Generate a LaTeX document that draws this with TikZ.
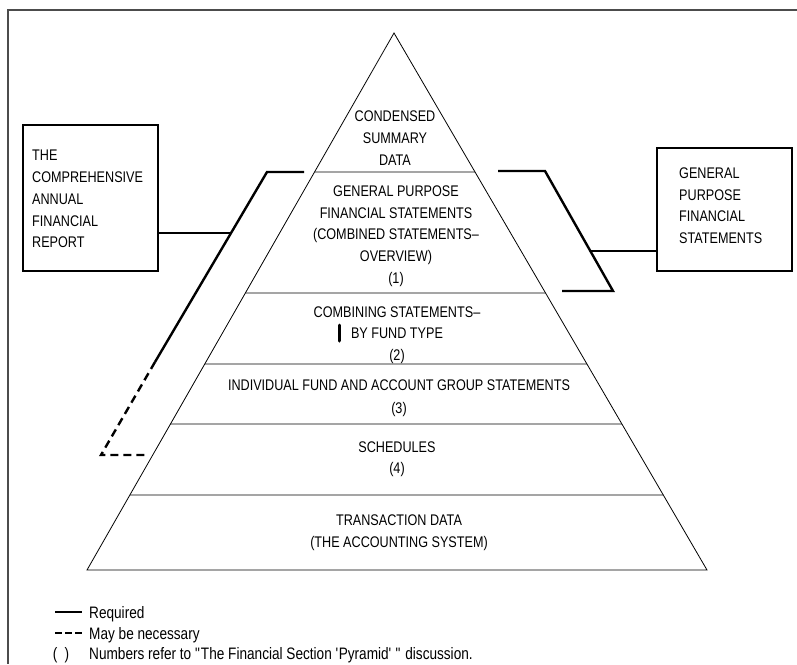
\documentclass[tikz,border=0pt]{standalone}
\usepackage{fontspec}
\newfontfamily\arialfont[FakeStretch=0.82]{Liberation Sans}
\begin{document}
\begin{tikzpicture}[x=1pt,y=-1pt,
  lbl/.style={font=\arialfont\fontsize{15.4}{21.7}\selectfont,inner sep=0pt,align=center,text depth=0pt},
  key/.style={lbl,anchor=west,font=\arialfont\fontsize{16.6}{21}\selectfont},
  sidebox/.style={draw,line width=1.2pt,minimum width=135pt,inner sep=0pt},
  req/.style={line width=2.4pt},
  maybe/.style={line width=2.4pt,dash pattern=on 8pt off 5pt},
  layer/.style={line width=0.8pt}]
\useasboundingbox (0,0) rectangle (797,664);
% frame
\draw[gray!60!black,line width=1.6pt] (797,10) -- (8,10) -- (8,664);
% pyramid and its layers
\coordinate (apex) at (394,33);
\coordinate (bl) at (87,570);
\coordinate (br) at (707,570);
\draw[layer] (apex) -- (bl) -- (br) -- cycle;
\foreach \yy in {172,293,364,424,495}
  \draw[layer] (intersection of apex--bl and 0,\yy--1,\yy) -- (intersection of apex--br and 0,\yy--1,\yy);
\node[lbl] (csd) at (395,138) {CONDENSED\\SUMMARY\\DATA};
\node[lbl] (gpf) at (396,234.5) {GENERAL PURPOSE\\FINANCIAL STATEMENTS\\(COMBINED STATEMENTS\textendash\\OVERVIEW)\\(1)};
\node[lbl] (cmb) at (397,333.5) {COMBINING STATEMENTS\textendash\\BY FUND TYPE\\(2)};
\draw[line width=3pt,line cap=round] (339,325) -- (339,341);
\node[lbl,font=\arialfont\fontsize{15.4}{23}\selectfont] (ind) at (399,396.5) {INDIVIDUAL FUND AND ACCOUNT GROUP STATEMENTS\\(3)};
\node[lbl] (sch) at (397,457.5) {SCHEDULES\\(4)};
\node[lbl] (trn) at (399,531) {TRANSACTION DATA\\(THE ACCOUNTING SYSTEM)};
% side boxes
\node[sidebox,minimum height=146pt] (cafr) at (90.5,198) {};
\node[lbl,align=left,anchor=west] (cafrtxt) at (32,199) {THE\\COMPREHENSIVE\\ANNUAL\\FINANCIAL\\REPORT};
\node[sidebox,minimum height=123pt] (gpfs) at (724.5,209.5) {};
\node[lbl,align=left,anchor=west] (gpfstxt) at (679,205.5) {GENERAL\\PURPOSE\\FINANCIAL\\STATEMENTS};
% left bracket
\coordinate (lt) at (304,172);
\coordinate (lc) at (267,172);
\coordinate (lm) at (155,362);
\coordinate (lb) at (101,455);
\coordinate (le) at (145,455);
\coordinate (lj) at (231,233);
\draw[req] (lt) -- (lc) -- (lm);
\draw[maybe] (lm) -- (lb) -- (le);
\draw[req] (cafr.east |- lj) -- (lj);
% right bracket
\coordinate (rt) at (498,171);
\coordinate (rc) at (545,171);
\coordinate (rd) at (613,291);
\coordinate (re) at (562,291);
\coordinate (rj) at (590,251);
\draw[req] (rt) -- (rc) -- (rd) -- (re);
\draw[req] (gpfs.west |- rj) -- (rj);
% legend
\node[key] (lgreq) at (89,612) {Required};
\node[key] (lgmay) at (89,633) {May be necessary};
\node[key] (lgnum) at (89,653) {Numbers refer to \textquotedbl The Financial Section \textquotesingle Pyramid\textquotesingle\ \textquotedbl\ discussion.};
\node[key,anchor=center] (lgpar) at (61,653) {(\;\,)};
\draw[req] (lgreq.west) ++(-34,0) -- ++(27,0);
\draw[maybe,dash pattern=on 7pt off 3pt] (lgmay.west) ++(-34,0) -- ++(27,0);
\end{tikzpicture}
\end{document}
